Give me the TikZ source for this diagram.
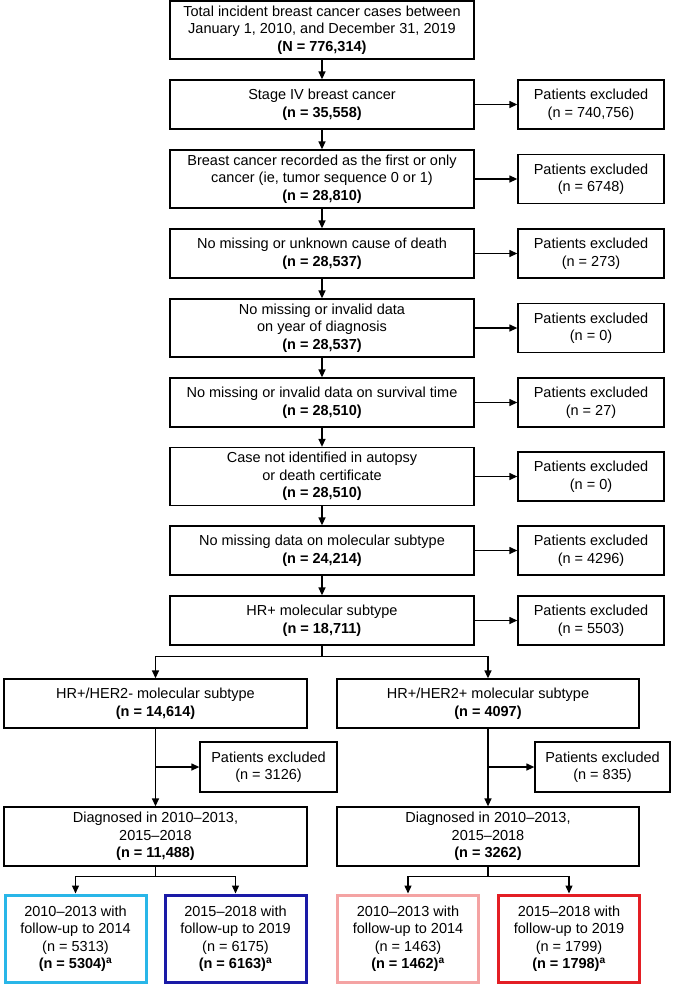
\documentclass[tikz,border=0pt]{standalone}
\usepackage{fontspec}
\setmainfont{Liberation Sans}
\usetikzlibrary{arrows.meta}
\definecolor{lblue}{HTML}{29B6E8}
\definecolor{dblue}{HTML}{1A1AA6}
\definecolor{lred}{HTML}{F4A3A3}
\definecolor{dred}{HTML}{E31E24}
\tikzset{
  box/.style = {draw, line width=1.3pt, align=center, inner sep=2pt,
                font=\fontsize{14.5}{17.5}\selectfont, minimum height=#1},
  box/.default = 49pt,
  main/.style = {box=#1, minimum width=304pt},
  main/.default = 49pt,
  excl/.style = {box, minimum width=146pt},
  sub/.style = {box=59pt, minimum width=303pt},
  leaf/.style = {box=87pt, minimum width=141pt, line width=3pt, draw=#1},
  arr/.style = {line width=1.3pt, -{Triangle[length=8pt,width=7pt]}}
}

\begin{document}
\begin{tikzpicture}[x=1pt,y=-1pt]
	\def \mx{322}
	\def \ex{591}
	\useasboundingbox (0,0) rectangle (685,989);

	% Main column
	\node[main=58pt] (b1) at (\mx,30)    {Total incident breast cancer cases between\\January 1, 2010, and December 31, 2019\\\textbf{(N = 776,314)}};
	\node[main]      (b2) at (\mx,104.5) {Stage IV breast cancer\\\textbf{(n = 35,558)}};
	\node[main=58pt] (b3) at (\mx,179)   {Breast cancer recorded as the first or only\\cancer (ie, tumor sequence 0 or 1)\\\textbf{(n = 28,810)}};
	\node[main]      (b4) at (\mx,253.5) {No missing or unknown cause of death\\\textbf{(n = 28,537)}};
	\node[main=58pt] (b5) at (\mx,328)   {No missing or invalid data\\on year of diagnosis\\\textbf{(n = 28,537)}};
	\node[main]      (b6) at (\mx,402.5) {No missing or invalid data on survival time\\\textbf{(n = 28,510)}};
	\node[main=58pt] (b7) at (\mx,476.5) {Case not identified in autopsy\\or death certificate\\\textbf{(n = 28,510)}};
	\node[main]      (b8) at (\mx,550.5) {No missing data on molecular subtype\\\textbf{(n = 24,214)}};
	\node[main]      (b9) at (\mx,620.5) {HR+ molecular subtype\\\textbf{(n = 18,711)}};

	% Excluded
	\node[excl] (e2) at (\ex,104.5) {Patients excluded\\(n = 740,756)};
	\node[excl] (e3) at (\ex,179)   {Patients excluded\\(n = 6748)};
	\node[excl] (e4) at (\ex,253.5) {Patients excluded\\(n = 273)};
	\node[excl] (e5) at (\ex,328)   {Patients excluded\\(n = 0)};
	\node[excl] (e6) at (\ex,402.5) {Patients excluded\\(n = 27)};
	\node[excl] (e7) at (\ex,476.5) {Patients excluded\\(n = 0)};
	\node[excl] (e8) at (\ex,550.5) {Patients excluded\\(n = 4296)};
	\node[excl] (e9) at (\ex,620.5) {Patients excluded\\(n = 5503)};

	\foreach \i [count=\j from 2] in {1,...,8}
		\draw[arr] (b\i.south) -- (b\j.north);
	\foreach \i in {2,...,9}
		\draw[arr] (b\i.east) -- (e\i.west);

	% Subtypes
	\node[box, minimum width=303pt] (hrn) at (155.5,703.5) {HR+/HER2- molecular subtype\\\textbf{(n = 14,614)}};
	\node[box, minimum width=302pt] (hrp) at (488,703.5)   {HR+/HER2+ molecular subtype\\\textbf{(n = 4097)}};
	\draw[arr] (b9.south) -- ++(0,11) -| (hrn.north);
	\draw[arr] (b9.south) -- ++(0,11) -| (hrp.north);

	\node[box=50pt, minimum width=137pt] (xn) at (268.5,767) {Patients excluded\\(n = 3126)};
	\node[box=50pt, minimum width=135pt] (xp) at (602.5,767) {Patients excluded\\(n = 835)};

	\node[sub] (dn) at (155.5,836.5) {Diagnosed in 2010--2013,\\2015--2018\\\textbf{(n = 11,488)}};
	\node[sub, minimum width=302pt] (dp) at (488,836.5) {Diagnosed in 2010--2013,\\2015--2018\\\textbf{(n = 3262)}};

	\draw[arr] (hrn.south) -- (dn.north);
	\draw[arr] (hrp.south) -- (dp.north);
	\draw[arr] (hrn.south |- xn.west) -- (xn.west);
	\draw[arr] (hrp.south |- xp.west) -- (xp.west);

	% Cohorts
	\node[leaf=lblue] (c1) at (75.5,938.5)  {2010--2013 with\\follow-up to 2014\\(n = 5313)\\\textbf{(n = 5304)}$^{\mathbf{a}}$};
	\node[leaf=dblue] (c2) at (235.5,938.5) {2015--2018 with\\follow-up to 2019\\(n = 6175)\\\textbf{(n = 6163)}$^{\mathbf{a}}$};
	\node[leaf=lred]  (c3) at (408,938.5)   {2010--2013 with\\follow-up to 2014\\(n = 1463)\\\textbf{(n = 1462)}$^{\mathbf{a}}$};
	\node[leaf=dred]  (c4) at (569,938.5)   {2015--2018 with\\follow-up to 2019\\(n = 1799)\\\textbf{(n = 1798)}$^{\mathbf{a}}$};

	\draw[arr] (dn.south) -- ++(0,10) -| (c1.north);
	\draw[arr] (dn.south) -- ++(0,10) -| (c2.north);
	\draw[arr] (dp.south) -- ++(0,10) -| (c3.north);
	\draw[arr] (dp.south) -- ++(0,10) -| (c4.north);
\end{tikzpicture}
\end{document}
